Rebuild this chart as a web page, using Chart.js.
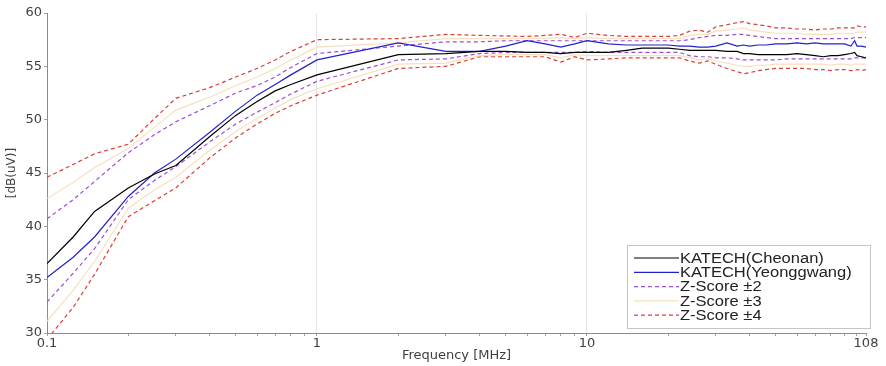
<!DOCTYPE html>
<html>
<head>
<meta charset="utf-8">
<script src="https://cdn.jsdelivr.net/npm/chart.js@4.4.1/dist/chart.umd.min.js"></script>
<style>
  html, body { margin: 0; padding: 0; background: #fff; }
  #wrap { width: 886px; height: 366px; }
</style>
</head>
<body>
<div id="wrap"><canvas id="chart"></canvas></div>
<script>
// ------------------------------------------------------------
// DATA
// ------------------------------------------------------------
const freq = [0.1, 0.125, 0.15, 0.2, 0.25, 0.3, 0.4, 0.5, 0.6, 0.7, 0.8, 1,
  2, 3, 4, 5, 6, 7, 8, 9, 10,
  12, 14, 16, 18, 20, 22, 24, 26, 28, 30, 33, 36, 38, 40, 43, 46, 50, 55,
  60, 65, 70, 75, 80, 85, 90, 95, 98, 100, 104, 108];

const cheonan = [36.5, 39.0, 41.4, 43.6, 44.9, 45.7, 48.4, 50.4, 51.7, 52.7, 53.3, 54.2,
  56.1, 56.2, 56.4, 56.4, 56.3, 56.3, 56.2, 56.3, 56.3,
  56.3, 56.5, 56.7, 56.7, 56.7, 56.6, 56.5, 56.5, 56.5, 56.5, 56.4, 56.4, 56.2, 56.2, 56.1, 56.1, 56.1, 56.1,
  56.2, 56.1, 56.0, 55.9, 56.0, 56.0, 56.1, 56.2, 56.3, 56.0, 55.9, 55.8];

const yeonggwang = [35.2, 37.1, 39.0, 42.8, 45.0, 46.3, 48.8, 50.8, 52.3, 53.3, 54.2, 55.6,
  57.2, 56.4, 56.4, 56.9, 57.4, 57.1, 56.8, 57.1, 57.4,
  57.1, 57.0, 57.0, 57.0, 57.0, 56.9, 56.9, 56.8, 56.8, 56.9, 57.2, 56.9, 57.0, 56.9, 57.0, 57.0, 57.1, 57.1,
  57.2, 57.1, 57.2, 57.1, 57.1, 57.1, 57.1, 56.9, 57.4, 56.9, 56.9, 56.8];

const zPlus2 = [40.7, 42.5, 44.2, 46.9, 48.6, 49.8, 51.3, 52.5, 53.2, 54.0, 54.9, 56.2,
  56.9, 57.3, 57.3, 57.4, 57.4, 57.4, 57.4, 57.4, 57.4,
  57.4, 57.4, 57.4, 57.4, 57.4, 57.4, 57.5, 57.7, 57.8, 57.9, 57.9, 58.0, 58.0, 57.9, 57.8, 57.7, 57.6, 57.6,
  57.6, 57.6, 57.6, 57.6, 57.6, 57.6, 57.6, 57.6, 57.7, 57.7, 57.7, 57.7];

const zMinus2 = [32.9, 35.6, 37.9, 42.5, 44.3, 45.6, 47.9, 49.6, 50.7, 51.6, 52.4, 53.6,
  55.6, 55.7, 56.2, 56.3, 56.3, 56.3, 56.3, 56.3, 56.4,
  56.3, 56.3, 56.3, 56.3, 56.3, 56.3, 56.0, 55.9, 55.9, 55.8, 55.8, 55.7, 55.6, 55.6, 55.6, 55.6, 55.6, 55.7,
  55.7, 55.7, 55.7, 55.7, 55.7, 55.7, 55.7, 55.7, 55.8, 55.8, 55.8, 55.8];

const zPlus3 = [42.6, 44.1, 45.5, 47.3, 49.3, 50.9, 52.1, 53.2, 54.0, 54.8, 55.6, 56.8,
  57.2, 57.6, 57.6, 57.6, 57.6, 57.6, 57.7, 57.6, 57.7,
  57.6, 57.6, 57.6, 57.6, 57.6, 57.6, 57.9, 58.0, 58.0, 58.3, 58.4, 58.5, 58.6, 58.4, 58.3, 58.2, 58.1, 58.1,
  58.1, 58.0, 58.0, 58.0, 58.0, 58.1, 58.1, 58.1, 58.1, 58.2, 58.2, 58.2];

const zMinus3 = [31.1, 34.0, 36.7, 41.7, 43.4, 44.6, 47.1, 48.9, 50.1, 51.1, 51.9, 52.9,
  55.2, 55.3, 56.0, 56.1, 56.1, 56.1, 55.8, 56.1, 56.0,
  56.0, 56.0, 56.0, 56.0, 56.0, 56.0, 55.8, 55.6, 55.7, 55.5, 55.3, 55.1, 55.0, 55.0, 55.1, 55.1, 55.2, 55.2,
  55.2, 55.2, 55.2, 55.2, 55.1, 55.2, 55.2, 55.1, 55.2, 55.2, 55.2, 55.2];

const zPlus4 = [44.6, 45.8, 46.8, 47.7, 50.1, 52.0, 53.0, 54.0, 54.8, 55.6, 56.4, 57.5,
  57.6, 58.0, 57.9, 57.85, 57.8, 57.9, 58.0, 57.7, 58.1,
  57.9, 57.8, 57.8, 57.8, 57.8, 57.9, 58.3, 58.4, 58.2, 58.7, 58.9, 59.1, 59.2, 59.0, 58.9, 58.8, 58.6, 58.6,
  58.5, 58.5, 58.4, 58.5, 58.5, 58.6, 58.6, 58.6, 58.6, 58.8, 58.7, 58.7];

const zMinus4 = [29.4, 32.4, 35.5, 40.9, 42.4, 43.6, 46.4, 48.3, 49.6, 50.6, 51.3, 52.3,
  54.8, 55.0, 55.9, 55.9, 55.9, 55.9, 55.4, 55.9, 55.6,
  55.7, 55.8, 55.8, 55.8, 55.8, 55.8, 55.5, 55.3, 55.5, 55.2, 54.8, 54.5, 54.3, 54.4, 54.6, 54.7, 54.8, 54.8,
  54.8, 54.8, 54.7, 54.7, 54.6, 54.7, 54.7, 54.6, 54.6, 54.7, 54.6, 54.7];

const xLabels = [0.1, 1, 10, 108];
const xMinor = [1, 2, 3, 4, 5, 6, 7, 8, 9];
const yMin = 30, yMax = 60, yStep = 5;

// ------------------------------------------------------------
// DATASETS
// ------------------------------------------------------------
function pts(vals) {
  return freq.map((f, i) => ({ x: f, y: vals[i] }));
}

function line(label, vals, color, dash) {
  return {
    label,
    data: pts(vals),
    borderColor: color,
    backgroundColor: color,
    borderWidth: 1.2,
    borderDash: dash || [],
    pointRadius: 0,
    tension: 0,
    fill: false
  };
}

const RED = "#d9403a", PURPLE = "#9b4fd6", ORANGE = "#f7e0bc";

const datasets = [
  line("KATECH(Cheonan)", cheonan, "#000000"),
  line("KATECH(Yeonggwang)", yeonggwang, "#2222cc"),
  line("Z-Score \u00b12", zPlus2, PURPLE, [4, 3]),
  line("", zMinus2, PURPLE, [4, 3]),
  line("Z-Score \u00b13", zPlus3, ORANGE),
  line("", zMinus3, ORANGE),
  line("Z-Score \u00b14", zPlus4, RED, [4, 3]),
  line("", zMinus4, RED, [4, 3])
];

// ------------------------------------------------------------
// LEGEND (boxed, bottom right)
// ------------------------------------------------------------
const boxLegend = {
  id: "boxLegend",
  afterDraw(chart) {
    const ctx = chart.ctx;
    const items = chart.data.datasets.filter(d => d.label);
    const bx = 627, by = 245, bw = 243, bh = 83;
    ctx.save();
    ctx.fillStyle = "#ffffff";
    ctx.fillRect(bx, by, bw, bh);
    ctx.strokeStyle = "#c4c4c4";
    ctx.lineWidth = 1;
    ctx.strokeRect(bx + 0.5, by + 0.5, bw, bh);
    items.forEach((d, i) => {
      const y = by + 13 + i * 14.3;
      ctx.beginPath();
      ctx.setLineDash(d.borderDash);
      ctx.strokeStyle = d.borderColor;
      ctx.lineWidth = 1.2;
      ctx.moveTo(634, y);
      ctx.lineTo(679, y);
      ctx.stroke();
      ctx.setLineDash([]);
      ctx.save();
      ctx.translate(680, y);
      ctx.scale(1.18, 1);
      ctx.fillStyle = "#222";
      ctx.font = "14px 'Liberation Sans', Arial, sans-serif";
      ctx.textBaseline = "middle";
      ctx.fillText(d.label, 0, 1);
      ctx.restore();
    });
    ctx.restore();
  }
};

// ------------------------------------------------------------
// CHART
// ------------------------------------------------------------
Chart.defaults.font.family = "'DejaVu Sans', sans-serif";
Chart.defaults.color = "#404040";

new Chart(document.getElementById("chart"), {
  type: "line",
  data: { datasets },
  plugins: [boxLegend],
  options: {
    responsive: true,
    maintainAspectRatio: false,
    animation: false,
    layout: { padding: { top: 13, right: 20, left: 0, bottom: 0 } },
    plugins: { legend: { display: false }, tooltip: { enabled: false } },
    scales: {
      x: {
        type: "logarithmic",
        min: 0.1,
        max: 108,
        afterFit: s => { s.height = 33; },
        afterBuildTicks: s => {
          const ticks = [];
          [0.1, 1, 10, 100].forEach(dec => xMinor.forEach(m => {
            const v = +(dec * m).toPrecision(3);
            if (v <= 108) ticks.push({ value: v });
          }));
          ticks.push({ value: 108 });
          s.ticks = ticks;
        },
        ticks: {
          autoSkip: false,
          maxRotation: 0,
          padding: 0,
          font: { size: 13 },
          callback: v => (xLabels.includes(v) ? String(v) : "")
        },
        grid: {
          color: c => ([1, 10].includes(c.tick && c.tick.value) ? "#e4e4e4" : "rgba(0,0,0,0)"),
          tickColor: "#a0a0a0",
          tickLength: 3
        },
        border: { color: "#8c8c8c", width: 1 },
        title: { display: true, text: "Frequency [MHz]", font: { size: 13 }, color: "#404040", padding: { top: 0, bottom: 3 } }
      },
      y: {
        min: yMin,
        max: yMax,
        afterFit: s => { s.width = 47; },
        ticks: { stepSize: yStep, padding: 2, font: { size: 13 } },
        grid: { drawOnChartArea: false, tickColor: "#a0a0a0", tickLength: 3 },
        border: { color: "#8c8c8c", width: 1 },
        title: { display: true, text: "[dB(uV)]", font: { size: 12 }, color: "#404040", padding: { top: 5, bottom: 0 } }
      }
    }
  }
});
</script>
</body>
</html>
